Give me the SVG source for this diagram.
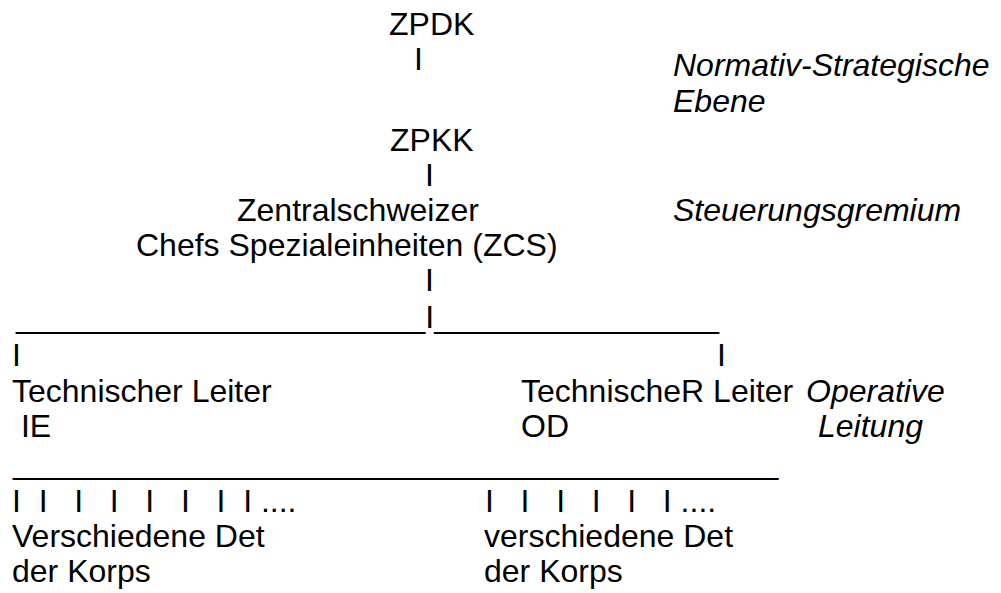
<svg xmlns="http://www.w3.org/2000/svg" width="1001" height="593" viewBox="0 0 1001 593" xml:space="preserve">
<style>
text { font-family: "Liberation Sans", Arial, sans-serif; font-size: 32px; fill: #000; white-space: pre; }
.it { font-style: italic; }
</style>
<rect width="1001" height="593" fill="#fff"/>
<g id="zpdk"><text x="389" y="35">ZPDK</text></g>
<g id="zpkk"><text x="390" y="151">ZPKK</text></g>
<g id="zcs">
<text x="237" y="221">Zentralschweizer</text>
<text x="136" y="256">Chefs Spezialeinheiten (ZCS)</text>
</g>
<g id="tl-ie">
<text x="12" y="402">Technischer Leiter</text>
<text x="12" y="437"> IE</text>
</g>
<g id="tl-od">
<text x="521" y="402">TechnischeR Leiter</text>
<text x="521" y="437">OD</text>
</g>
<g id="det-ie">
<text x="12" y="547">Verschiedene Det</text>
<text x="12" y="582">der Korps</text>
</g>
<g id="det-od">
<text x="484" y="547">verschiedene Det</text>
<text x="484" y="582">der Korps</text>
</g>
<g id="levels">
<text class="it" x="673" y="76">Normativ-Strategische</text>
<text class="it" x="673" y="112">Ebene</text>
<text class="it" x="673" y="221">Steuerungsgremium</text>
<text class="it" x="806" y="402">Operative</text>
<text class="it" x="818" y="437">Leitung</text>
</g>
<g id="connectors">
<text x="414" y="70">I</text>
<text x="425" y="186">I</text>
<text x="425" y="291">I</text>
<text x="16" y="328">_______________________I________________</text>
<text x="12" y="366">I</text>
<text x="717" y="366">I</text>
<text x="13" y="474">___________________________________________</text>
<text x="12" y="512">I  I   I   I   I   I   I  I ....</text>
<text x="485" y="512">I   I   I   I   I   I ....</text>
</g>
</svg>
